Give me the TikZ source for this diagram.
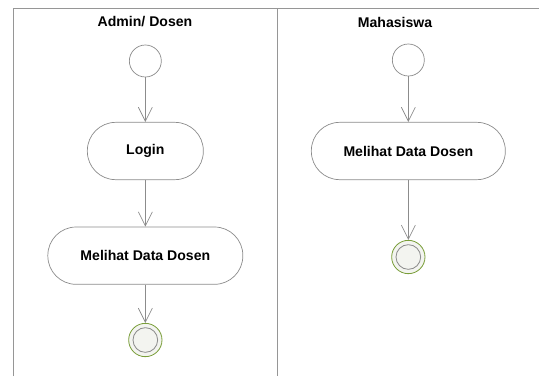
\documentclass[tikz,border=0pt]{standalone}
\usepackage{fontspec}
\setmainfont{Liberation Sans}
\usepackage{tikz}
\usetikzlibrary{positioning,arrows.meta}
\definecolor{linegray}{RGB}{140,140,140}
\definecolor{lanegray}{RGB}{150,150,150}
\definecolor{endgreen}{RGB}{122,158,58}
\definecolor{endfill}{RGB}{243,244,240}

\begin{document}
\begin{tikzpicture}[
  every node/.style={font=\fontsize{12}{14}\selectfont\bfseries},
  lane/.style={line width=0.8pt, color=lanegray},
  flow/.style={-{Straight Barb[length=0.42cm,width=0.42cm]}, line width=0.6pt, color=linegray},
  initial/.style={circle, draw=linegray, line width=0.6pt, fill=white, minimum size=0.96cm, inner sep=0pt},
  final/.style={circle, draw=endgreen, line width=0.7pt, fill=endfill, minimum size=1.0cm, inner sep=0pt,
    path picture={\draw[linegray, line width=0.7pt] (path picture bounding box.center) circle (0.37cm);}},
  activity/.style={rectangle, rounded corners=0.85cm, draw=linegray, line width=0.6pt, fill=white, minimum height=1.72cm}
]
  \useasboundingbox (0,0) rectangle (16.17,-11.28);

  % swimlanes
  \draw[lane] (0.405,-11.28) -- (0.405,-0.255) -- (16.17,-0.255);
  \draw[lane] (8.325,-0.255) -- (8.325,-11.28);
  \node (laneA) at (4.35,-0.66) {Admin/ Dosen};
  \node (laneB) at (11.85,-0.66) {Mahasiswa};

  % Admin/ Dosen
  \node[initial] (start1) at (4.36,-1.83) {};
  \node[activity, minimum width=3.48cm] (login) at (4.36,-4.53) {Login};
  \node[activity, minimum width=5.85cm] (lihat1) at (4.36,-7.67) {Melihat Data Dosen};
  \node[final] (end1) at (4.36,-10.2) {};

  % Mahasiswa
  \node[initial] (start2) at (12.25,-1.8) {};
  \node[activity, minimum width=5.82cm] (lihat2) at (12.25,-4.53) {Melihat Data Dosen};
  \node[final] (end2) at (12.25,-7.71) {};

  \foreach \a/\b in {start1/login,login/lihat1,lihat1/end1,start2/lihat2,lihat2/end2}
    \draw[flow] (\a) -- (\b);
\end{tikzpicture}
\end{document}
